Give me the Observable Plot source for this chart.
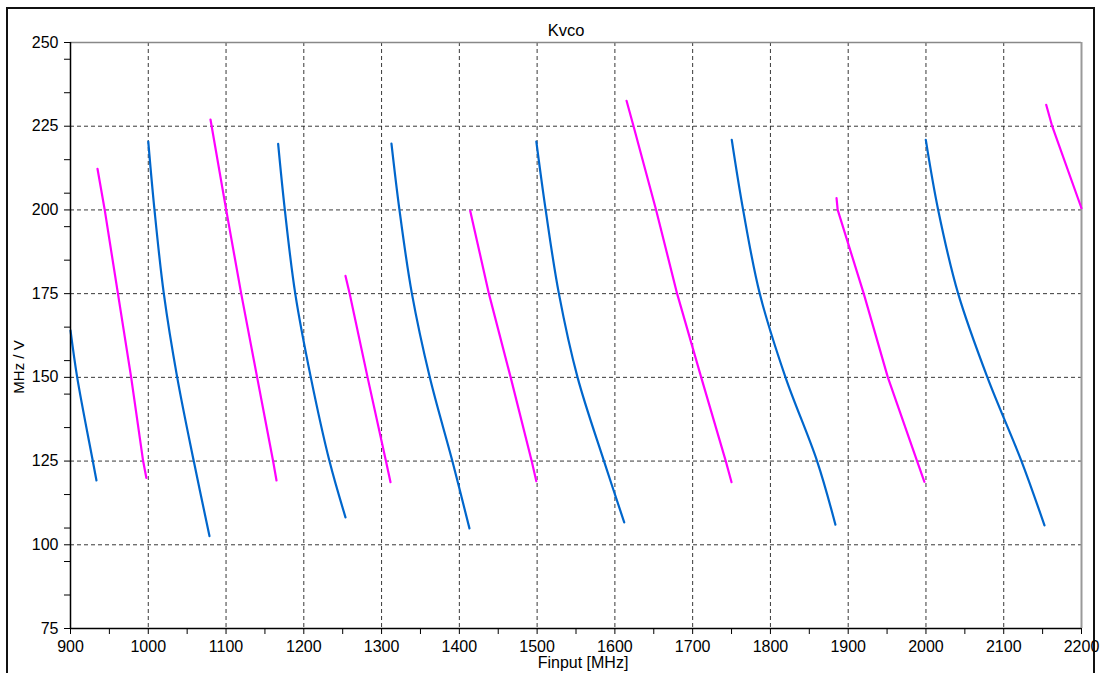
<!DOCTYPE html>
<html>
<head>
<meta charset="utf-8">
<script src="https://cdn.jsdelivr.net/npm/d3@7"></script>
<script src="https://cdn.jsdelivr.net/npm/@observablehq/plot@0.6"></script>
<style>
  html, body { margin: 0; padding: 0; background: #fff; overflow: hidden; }
  #wrap { position: relative; width: 1101px; height: 673px; }
  #frame { position: absolute; left: 6px; top: 7px; width: 1089px; height: 700px; border: 2px solid #111; box-sizing: border-box; }
  #chart { position: absolute; left: 0; top: 0; }
  #ylab { position: absolute; left: 18px; top: 367px; transform: translate(-50%, -50%) rotate(-90deg); font: 15px 'Liberation Sans', Arial, sans-serif; white-space: nowrap; color: #000; }
</style>
</head>
<body>
<div id="wrap"><div id="frame"></div><div id="chart"></div><div id="ylab"></div></div>
<script>
// Band segments: [Finput MHz, Kvco MHz/V]
const seg01 = [[900, 164], [908.6, 150], [928.7, 125], [933.4, 119.2]];
const seg02 = [[934.7, 212.3], [944, 200], [961, 175], [978, 150], [993.4, 125], [997.5, 120]];
const seg03 = [[1000, 220.4], [1008, 200], [1020, 175], [1037.2, 150], [1058.5, 125], [1078.7, 102.6]];
const seg04 = [[1080, 227], [1100.2, 200], [1119.5, 175], [1140, 150], [1160.5, 125], [1164.9, 119.2]];
const seg05 = [[1167, 219.7], [1175.6, 200], [1189, 175], [1209, 150], [1233, 125], [1253.6, 108.2]];
const seg06 = [[1253.6, 180.3], [1259, 175], [1282, 150], [1305.6, 125], [1311.5, 118.7]];
const seg07 = [[1312.7, 219.8], [1323, 200], [1339, 175], [1362, 150], [1391, 125], [1413, 104.9]];
const seg08 = [[1414, 199.7], [1438, 175], [1466, 150], [1493, 125], [1499, 119]];
const seg09 = [[1499, 220.4], [1511, 200], [1528, 175], [1552, 150], [1586, 125], [1612, 106.7]];
const seg10 = [[1615, 232.6], [1624, 225], [1653, 200], [1680, 175], [1711, 150], [1742.6, 125], [1750, 118.7]];
const seg11 = [[1750.3, 220.9], [1764.9, 200], [1786.3, 175], [1819.4, 150], [1860, 125], [1883.6, 106]];
const seg12 = [[1885, 203.5], [1886.5, 200], [1920, 175], [1951, 150], [1988.6, 125], [1998, 118.8]];
const seg13 = [[1999.8, 220.9], [2015.7, 200], [2041.4, 175], [2079, 150], [2122.8, 125], [2152.4, 105.8]];
const seg14 = [[2154.6, 231.4], [2162.3, 225], [2200, 200.5]];

const segments = [seg01, seg02, seg03, seg04, seg05, seg06, seg07, seg08, seg09, seg10, seg11, seg12, seg13, seg14];
const bandColors = ["#0066cc", "#ff00ff"];
const bandCurves = ["catmull-rom", "linear"];

const xTicks = [900, 950, 1000, 1050, 1100, 1150, 1200, 1250, 1300, 1350, 1400, 1450, 1500, 1550, 1600, 1650, 1700, 1750, 1800, 1850, 1900, 1950, 2000, 2050, 2100, 2150, 2200];
const xLabels = [900, 1000, 1100, 1200, 1300, 1400, 1500, 1600, 1700, 1800, 1900, 2000, 2100, 2200];
const yTicks = [75, 85, 95, 100, 105, 115, 125, 135, 145, 150, 155, 165, 175, 185, 195, 200, 205, 215, 225, 235, 245, 250];
const yLabels = [75, 100, 125, 150, 175, 200, 225, 250];
const xGrid = [1000, 1100, 1200, 1300, 1400, 1500, 1600, 1700, 1800, 1900, 2000, 2100];
const yGrid = [100, 125, 150, 175, 200, 225];

const titleText = "Kvco";
const xTitle = "Finput [MHz]";
const yTitle = "MHz / V";

const chart = Plot.plot({
  width: 1101,
  height: 673,
  marginLeft: 70,
  marginRight: 20,
  marginTop: 42,
  marginBottom: 45,
  x: {domain: [900, 2200]},
  y: {domain: [75, 250]},
  style: {fontFamily: "'Liberation Sans', Arial, sans-serif", fontSize: "16px", background: "transparent", overflow: "visible", color: "#000"},
  marks: [
    Plot.gridY(yGrid, {stroke: "#222", strokeOpacity: 0.9, strokeDasharray: "4,3"}),
    Plot.gridX(xGrid, {stroke: "#222", strokeOpacity: 0.9, strokeDasharray: "4,3"}),
    Plot.ruleY([250], {stroke: "#888", strokeWidth: 1.5}),
    Plot.ruleX([2200], {stroke: "#999", strokeWidth: 2}),
    ...segments.map((s, i) => Plot.line(s, {x: d => d[0], y: d => d[1], stroke: bandColors[i % 2], strokeWidth: 2.2, curve: bandCurves[i % 2]})),
    Plot.axisY(yTicks, {tickSize: 6, tickPadding: 6, tickFormat: d => yLabels.includes(d) ? String(d) : "", label: null, fontSize: 16}),
    Plot.axisX(xTicks, {tickSize: 6, tickPadding: 6, tickFormat: d => xLabels.includes(d) ? String(d) : "", label: null, fontSize: 16}),
    Plot.ruleX([900], {stroke: "#000", strokeWidth: 1.5}),
    Plot.ruleY([75], {stroke: "#000", strokeWidth: 1.5}),
    Plot.text([titleText], {frameAnchor: "top", dx: -10, dy: -18, fontSize: 16.5}),
    Plot.text([xTitle], {frameAnchor: "bottom", dx: 7, dy: 39, fontSize: 16})
  ]
});
document.getElementById("chart").appendChild(chart);
document.getElementById("ylab").textContent = yTitle;
</script>
</body>
</html>
